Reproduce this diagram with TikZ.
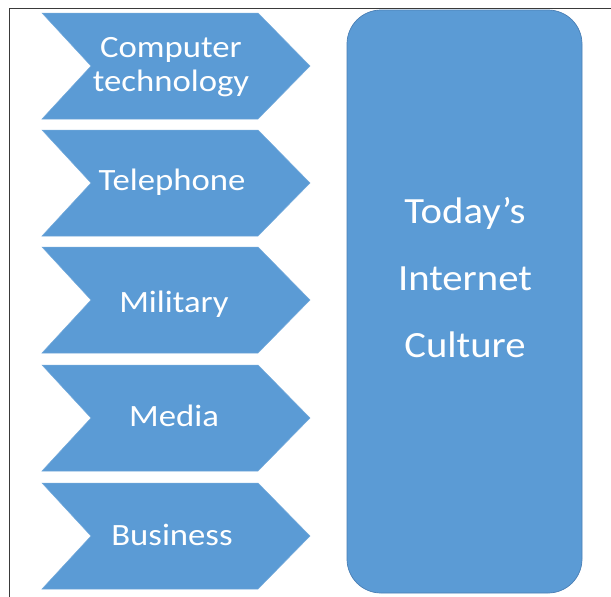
\documentclass[tikz,border=0pt]{standalone}
\usepackage{fontspec}
\setmainfont{Carlito}
\definecolor{officeblue}{HTML}{5B9BD5}
\definecolor{edgeblue}{HTML}{4A7FB5}
\definecolor{framegray}{HTML}{3A3A3A}
\begin{document}
\begin{tikzpicture}[x=1pt,y=1pt,
  chev/.style={fill=officeblue,draw=officeblue!85!white,line width=0.5pt,line join=miter},
  bigbox/.style={fill=officeblue,draw=edgeblue,line width=0.7pt,rounded corners=34pt},
  lbl/.style={text=white,anchor=base,inner sep=0pt,font=\fontsize{31}{33}\selectfont},
  biglbl/.style={text=white,anchor=base,inner sep=0pt,font=\fontsize{37}{40}\selectfont}]
\useasboundingbox (0,0) rectangle (611,-597);
\fill[white] (0,0) rectangle (611,-597);
% frame
\draw[framegray,line width=1pt] (9,-597) -- (9,-8) -- (611,-8);
% chevrons
\foreach \t in {13,130,247,365,483}{
  \draw[chev] (42,-\t) -- ++(216,0) -- ++(52,-53) -- ++(-52,-53) -- ++(-216,0) -- ++(49,53) -- cycle;
}
% big rounded rectangle
\draw[bigbox] (347,-10) rectangle (582,-593);
% labels
\node[lbl] (l1a) at (171,-57) {\scalebox{1.12}[1]{Computer}};
\node[lbl] (l1b) at (171,-91) {\scalebox{1.12}[1]{technology}};
\node[lbl] (l2) at (172,-190) {\scalebox{1.12}[1]{Telephone}};
\node[lbl] (l3) at (174,-312) {\scalebox{1.12}[1]{Military}};
\node[lbl] (l4) at (174,-426) {\scalebox{1.12}[1]{Media}};
\node[lbl] (l5) at (172,-545) {\scalebox{1.12}[1]{Business}};
\node[biglbl] (r1) at (465,-223) {\scalebox{1.1}[1]{Today’s}};
\node[biglbl] (r2) at (465,-290) {\scalebox{1.1}[1]{Internet}};
\node[biglbl] (r3) at (465,-357) {\scalebox{1.1}[1]{Culture}};
\end{tikzpicture}
\end{document}
